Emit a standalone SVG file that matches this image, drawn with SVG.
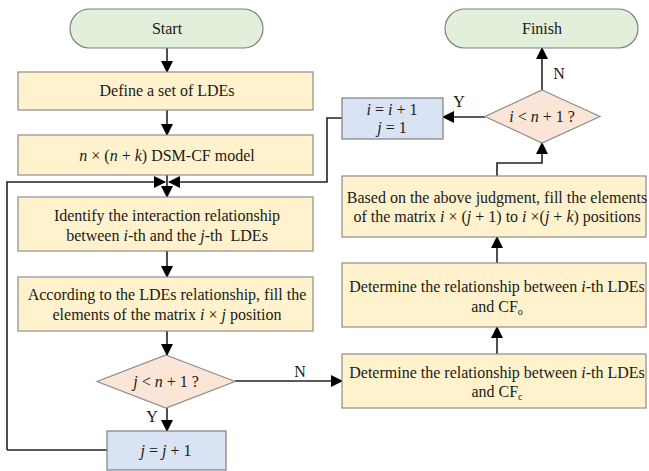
<svg xmlns="http://www.w3.org/2000/svg" width="649" height="471" viewBox="0 0 649 471">
<defs>
<marker id="ah" markerWidth="12" markerHeight="12" refX="11" refY="6" orient="auto" markerUnits="userSpaceOnUse">
<path d="M0,0 L12,6 L0,12 Z" fill="#000"/>
</marker>
<style>
.t{font-family:"Liberation Serif","Times New Roman",serif;font-size:16px;fill:#1a1a1a;text-anchor:middle}
.i{font-style:italic}
.term{fill:#e2efda;stroke:#7f7f7f;stroke-width:1.2}
.proc{fill:#fff2cc;stroke:#8c8c8c;stroke-width:1.2}
.dec{fill:#fbe5d6;stroke:#8c8c8c;stroke-width:1.2}
.blue{fill:#dae3f3;stroke:#7f7f7f;stroke-width:1.2}
.c{fill:none;stroke:#222;stroke-width:1.6}
.ca{fill:none;stroke:#222;stroke-width:1.6;marker-end:url(#ah)}
</style>
</defs>
<rect width="649" height="471" fill="#fff"/>
<g id="connectors">
<path class="ca" d="M167,48 V72"/>
<path class="ca" d="M167,110 V135"/>
<path class="c" d="M167,175 V182"/>
<path class="ca" d="M167,182 V197"/>
<path class="ca" d="M7,450 V182 H165"/>
<path class="ca" d="M342,118 H327 V182 H169"/>
<path class="ca" d="M167,251 V277"/>
<path class="ca" d="M167,331 V355"/>
<path class="ca" d="M167,408 V431"/>
<path class="c" d="M107,450 H7"/>
<path class="ca" d="M235,381 H342"/>
<path class="ca" d="M497,354 V327"/>
<path class="ca" d="M497,263 V237"/>
<path class="ca" d="M497,176 V163 H542 V143"/>
<path class="ca" d="M485,117 H443"/>
<path class="ca" d="M542,90 V48"/>
<text class="t" x="152" y="422">Y</text>
<text class="t" x="300" y="377">N</text>
<text class="t" x="459" y="107">Y</text>
<text class="t" x="559" y="79">N</text>
</g>
<g id="start">
<rect class="term" x="70" y="9" width="193" height="39" rx="19.5"/>
<text class="t" x="167" y="34">Start</text>
</g>
<g id="define">
<rect class="proc" x="18" y="72" width="295" height="38"/>
<text class="t" x="167" y="96">Define a set of LDEs</text>
</g>
<g id="model">
<rect class="proc" x="18" y="135" width="295" height="40"/>
<text class="t" x="167" y="161"><tspan class="i">n</tspan> × (<tspan class="i">n</tspan> + <tspan class="i">k</tspan>) DSM-CF model</text>
</g>
<g id="identify">
<rect class="proc" x="18" y="197" width="295" height="54"/>
<text class="t" x="167" y="221">Identify the interaction relationship</text>
<text class="t" x="167" y="241" style="white-space:pre">between <tspan class="i">i</tspan>-th and the <tspan class="i">j</tspan>-th  LDEs</text>
</g>
<g id="fill">
<rect class="proc" x="18" y="277" width="295" height="54"/>
<text class="t" x="167" y="300">According to the LDEs relationship, fill the</text>
<text class="t" x="167" y="320">elements of the matrix <tspan class="i">i</tspan> × <tspan class="i">j</tspan> position</text>
</g>
<g id="decision-j">
<polygon class="dec" points="166,355 235,381.5 166,408 97,381.5"/>
<text class="t" x="166" y="387"><tspan class="i">j</tspan> &lt; <tspan class="i">n</tspan> + 1 ?</text>
</g>
<g id="jinc">
<rect class="blue" x="107" y="431" width="119" height="39"/>
<text class="t" x="166" y="456"><tspan class="i">j</tspan> = <tspan class="i">j</tspan> + 1</text>
</g>
<g id="cfc">
<rect class="proc" x="342" y="354" width="304" height="54"/>
<text class="t" x="497" y="378">Determine the relationship between <tspan class="i">i</tspan>-th LDEs</text>
<text class="t" x="497" y="397">and CF<tspan font-size="10" dy="3">c</tspan></text>
</g>
<g id="cfo">
<rect class="proc" x="342" y="263" width="304" height="64"/>
<text class="t" x="497" y="292">Determine the relationship between <tspan class="i">i</tspan>-th LDEs</text>
<text class="t" x="497" y="312">and CF<tspan font-size="10" dy="3">o</tspan></text>
</g>
<g id="based">
<rect class="proc" x="342" y="176" width="304" height="61"/>
<text class="t" x="497" y="203">Based on the above judgment, fill the elements</text>
<text class="t" x="497" y="222">of the matrix <tspan class="i">i</tspan> × (<tspan class="i">j</tspan> + 1) to <tspan class="i">i</tspan> ×(<tspan class="i">j</tspan> + <tspan class="i">k</tspan>) positions</text>
</g>
<g id="decision-i">
<polygon class="dec" points="542,90 600,116.5 542,143 485,116.5"/>
<text class="t" x="542" y="122"><tspan class="i">i</tspan> &lt; <tspan class="i">n</tspan> + 1 ?</text>
</g>
<g id="iinc">
<rect class="blue" x="342" y="98" width="101" height="41"/>
<text class="t" x="392" y="115"><tspan class="i">i</tspan> = <tspan class="i">i</tspan> + 1</text>
<text class="t" x="392" y="133"><tspan class="i">j</tspan> = 1</text>
</g>
<g id="finish">
<rect class="term" x="445" y="9" width="193" height="39" rx="19.5"/>
<text class="t" x="542" y="34">Finish</text>
</g>
</svg>
